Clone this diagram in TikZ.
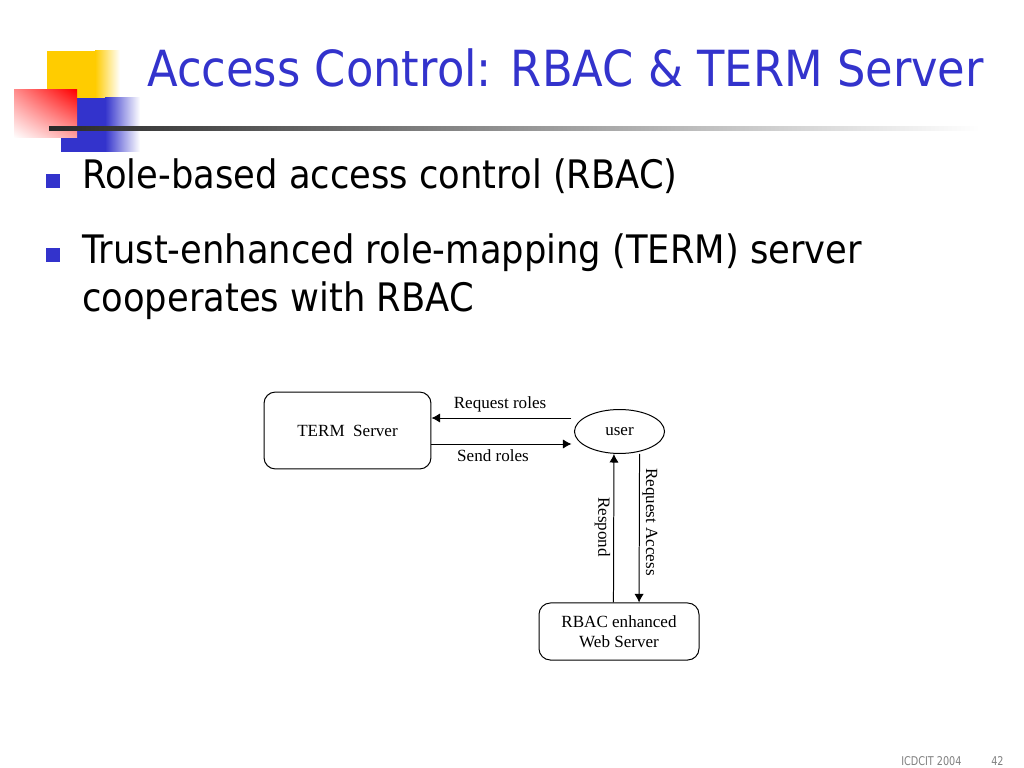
\documentclass[tikz,border=0pt]{standalone}
\usepackage{fontspec}
\usepackage{xcolor}
\usetikzlibrary{shapes.geometric,arrows.meta,positioning,calc,shadings}
\setmainfont{Liberation Serif}
\newfontfamily\slidefont[FakeStretch=0.9]{DejaVu Sans}
\newfontfamily\footfont[FakeStretch=0.8]{DejaVu Sans}
\definecolor{titleblue}{RGB}{51,51,204}
\definecolor{logoyellow}{RGB}{255,204,0}
\definecolor{logored}{RGB}{255,0,0}
\definecolor{rulegray}{RGB}{40,40,40}
\definecolor{footgray}{RGB}{128,128,128}

\begin{document}
\begin{tikzpicture}[
 x=0.703125pt, y=-0.703125pt,
 server/.style={rectangle, draw, rounded corners=8pt, line width=0.7pt, align=center, font=\fontsize{12}{14}\selectfont},
 client/.style={ellipse, draw, line width=0.7pt, inner sep=0pt, minimum width=63.3pt, minimum height=30.9pt, font=\fontsize{12}{14}\selectfont},
 arrow/.style={-{Latex[length=6pt,width=6.5pt]}, line width=0.7pt},
 msg/.style={inner sep=0pt, font=\fontsize{12}{14}\selectfont},
 bullettext/.style={anchor=base west, inner sep=0pt, align=left, font=\slidefont\fontsize{27.6}{33.75}\selectfont},
 foot/.style={anchor=base west, inner sep=0pt, text=footgray, font=\footfont\fontsize{8.5}{10}\selectfont}
]
\useasboundingbox (0,0) rectangle (1024,768);

% Logo
\fill[logoyellow] (47,51) rectangle (95,98);
\shade[left color=logoyellow, right color=white] (95,51) rectangle (120,98);
\fill[titleblue] (61,98) rectangle (105,152);
\shade[left color=titleblue, right color=white] (105,98) rectangle (140,152);
\shade[upper left=logored!45, upper right=logored, lower left=white, lower right=logored!35] (14,90) rectangle (77,138);
\shade[left color=rulegray, right color=white] (49,127) rectangle (980,131);

% Title
\node[anchor=base west, inner sep=0pt, text=titleblue, font=\slidefont\fontsize{35}{40}\selectfont] (title) at (147,87) {Access Control: RBAC \& TERM Server};

% Bullets
\fill[titleblue] (46,174) rectangle (60,188);
\fill[titleblue] (46,248) rectangle (60,262);
\node[bullettext] (rbac-item) at (82,189) {Role-based access control (RBAC)};
\node[bullettext] (term-item) at (82,311) {Trust-enhanced role-mapping (TERM) server\\cooperates with RBAC};

% Diagram
\node[server, minimum width=117.4pt, minimum height=54.1pt] (term) at (347.5,430.5) {TERM\ \ Server};
\node[client] (user) at (619.5,431.5) {user};
\node[server, minimum width=112.5pt, minimum height=40.1pt] (rbac) at (619,631.5) {RBAC enhanced\\Web Server};

\draw[arrow] ($(user.west)+(-2.5,-13.5)$) coordinate (reqstart) -- (reqstart -| term.east);
\draw[arrow] (term.east |- 0,444) coordinate (sendstart) -- (sendstart -| reqstart);
\draw[arrow] ([xshift=-3.9pt]rbac.north) -- ([xshift=-3.9pt]user.south);
\draw[arrow] ([xshift=14.1pt]user.south) -- ([xshift=14.1pt]rbac.north);

% Labels
\node[msg] (reqroles) at (500,404) {Request roles};
\node[msg] (sendroles) at (493,456) {Send roles};
\node[msg, rotate=-90] (respond) at (602.5,527) {Respond};
\node[msg, rotate=-90] (reqaccess) at (650,522) {Request Access};

% Footer
\node[foot] (conf) at (901,765) {ICDCIT 2004};
\node[foot] (page) at (991,765) {42};

\end{tikzpicture}
\end{document}
